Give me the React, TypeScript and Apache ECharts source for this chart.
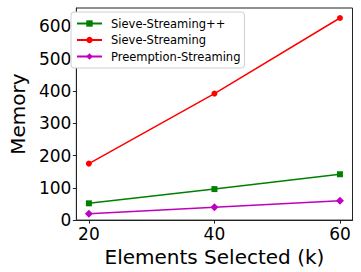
import React, { useEffect, useRef } from "react";
import * as echarts from "echarts";

const kValues = [20, 40, 60];
const sieveStreamingPP = [52, 96, 142];
const sieveStreaming = [175, 392, 626];
const preemptionStreaming = [20, 40, 60];
const xTicks = [20, 40, 60];
const yTicks = [0, 100, 200, 300, 400, 500, 600];

const FONT = "DejaVu Sans";

export default function App() {
  const ref = useRef<HTMLDivElement>(null);
  useEffect(() => {
    if (!ref.current) return;
    const chart = echarts.init(ref.current, undefined, { renderer: "svg" });
    const mk = (vals: number[]) => kValues.map((k, i) => [k, vals[i]]);
    chart.setOption({
      animation: false,
      backgroundColor: "#fff",
      grid: {
        left: 67.5,
        right: 8.5,
        top: 8,
        bottom: 51,
        show: true,
        borderColor: "#222",
        borderWidth: 1,
        backgroundColor: "transparent",
      },
      legend: {
        orient: "vertical",
        left: 71,
        top: 12,
        padding: [5, 4, 5, 5],
        itemWidth: 25,
        itemHeight: 8,
        itemGap: 3.5,
        borderColor: "#cfcfcf",
        borderWidth: 1,
        borderRadius: 3,
        backgroundColor: "#fff",
        textStyle: { fontFamily: FONT, fontSize: 11.5, lineHeight: 13, color: "#000", padding: [0, 0, 0, 4] },
        data: ["Sieve-Streaming++", "Sieve-Streaming", "Preemption-Streaming"],
      },
      xAxis: {
        type: "value",
        min: 18,
        max: 62,
        name: "Elements Selected (k)",
        nameLocation: "middle",
        nameGap: 23,
        nameTextStyle: { fontFamily: FONT, fontSize: 20, color: "#000" },
        axisLine: { show: true, lineStyle: { color: "#222", width: 1 } },
        axisTick: { show: true, length: 3.5, lineStyle: { color: "#222" }, customValues: xTicks },
        axisLabel: { fontFamily: FONT, fontSize: 17, color: "#000", margin: 5, customValues: xTicks },
        splitLine: { show: false },
      },
      yAxis: {
        type: "value",
        min: 0,
        max: 657,
        name: "Memory",
        nameLocation: "middle",
        nameGap: 43,
        nameTextStyle: { fontFamily: FONT, fontSize: 20, color: "#000" },
        axisLine: { show: true, lineStyle: { color: "#222", width: 1 } },
        axisTick: { show: true, length: 3.5, lineStyle: { color: "#222" }, customValues: yTicks },
        axisLabel: { fontFamily: FONT, fontSize: 17, color: "#000", margin: 5, customValues: yTicks },
        splitLine: { show: false },
      },
      series: [
        {
          name: "Sieve-Streaming++",
          type: "line",
          data: mk(sieveStreamingPP),
          symbol: "rect",
          symbolSize: 6,
          lineStyle: { color: "#008000", width: 1.5 },
          itemStyle: { color: "#008000" },
          color: "#008000",
        },
        {
          name: "Sieve-Streaming",
          type: "line",
          data: mk(sieveStreaming),
          symbol: "circle",
          symbolSize: 6,
          lineStyle: { color: "#ff0000", width: 1.5 },
          itemStyle: { color: "#ff0000" },
          color: "#ff0000",
        },
        {
          name: "Preemption-Streaming",
          type: "line",
          data: mk(preemptionStreaming),
          symbol: "diamond",
          symbolSize: 8,
          lineStyle: { color: "#bf00bf", width: 1.5 },
          itemStyle: { color: "#bf00bf" },
          color: "#bf00bf",
        },
      ],
    });
    return () => chart.dispose();
  }, []);
  return <div ref={ref} style={{ width: 361, height: 272, position: "absolute", left: 0, top: 0 }} />;
}
